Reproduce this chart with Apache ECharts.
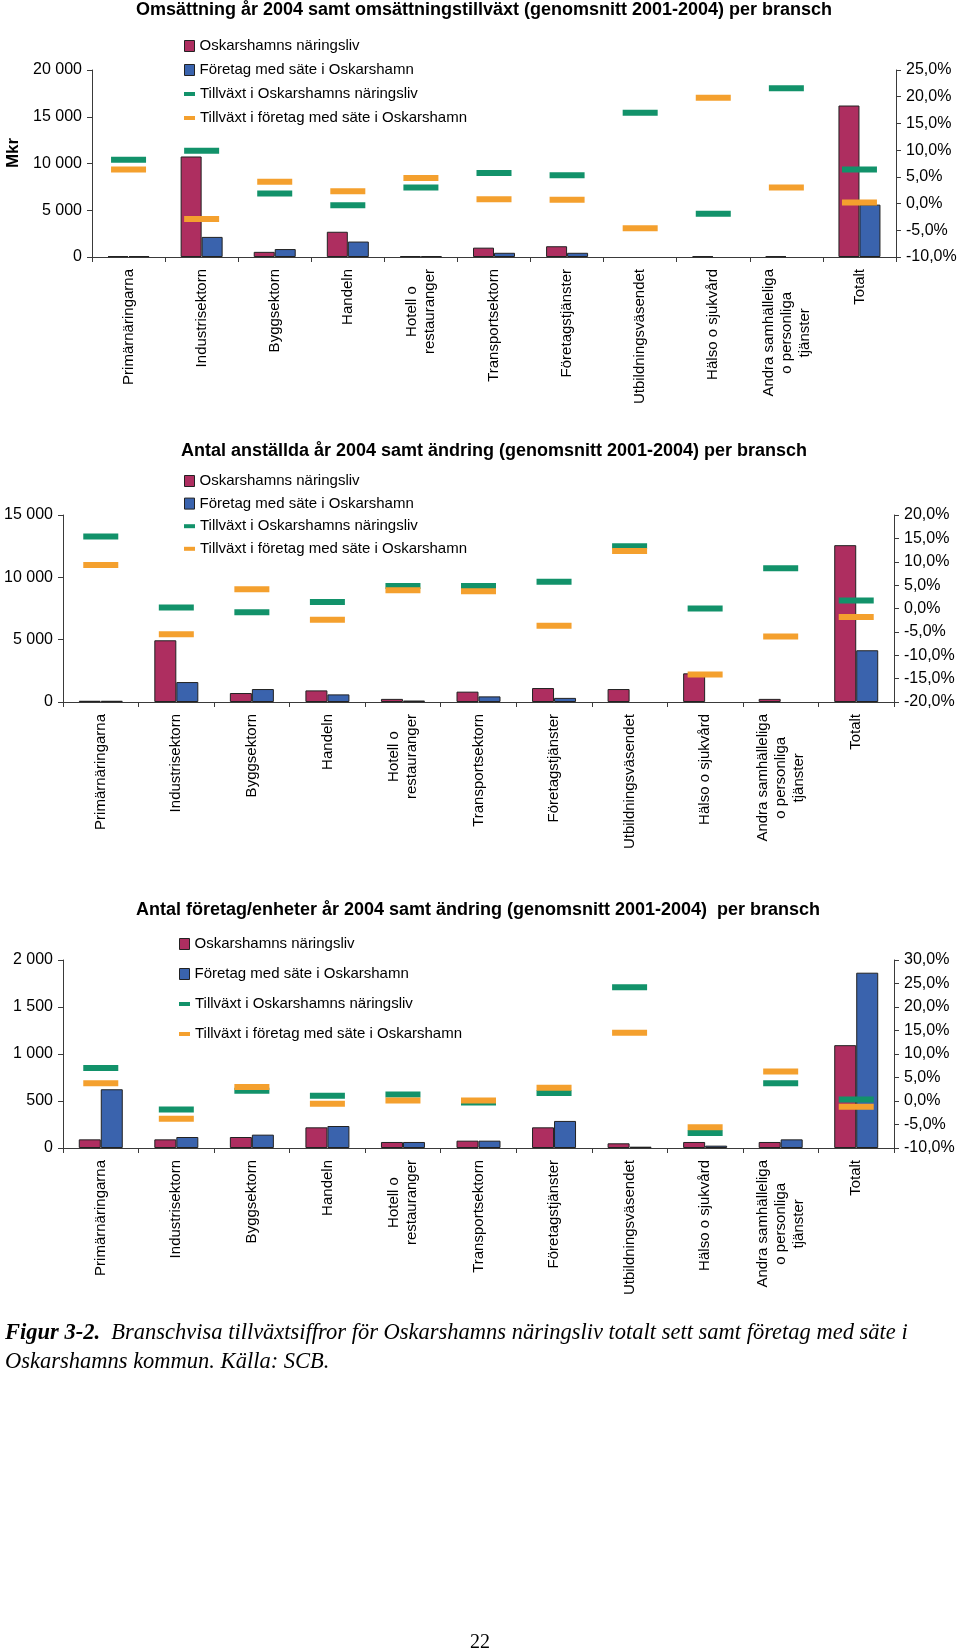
<!DOCTYPE html>
<html>
<head>
<meta charset="utf-8">
<script src="https://cdn.jsdelivr.net/npm/echarts@6/dist/echarts.min.js"></script>
<style>
html,body{margin:0;padding:0;background:#fff;}
#main{width:960px;height:1649px;}
</style>
</head>
<body>
<div id="main"></div>
<script>
// ---------- DATA ----------
const categories = ['Primärnäringarna','Industrisektorn','Byggsektorn','Handeln','Hotell o\nrestauranger','Transportsektorn','Företagstjänster','Utbildningsväsendet','Hälso o sjukvård','Andra samhälleliga\no personliga\ntjänster','Totalt'];
const seriesNames = ['Oskarshamns näringsliv','Företag med säte i Oskarshamn','Tillväxt i Oskarshamns näringsliv','Tillväxt i företag med säte i Oskarshamn'];

// Chart 1: Omsättning (Mkr) and growth (%)
const omsOskarshamn = [100, 10750, 550, 2700, 100, 1000, 1150, null, 80, 80, 16200];
const omsForetag    = [100, 2150, 850, 1650, 100, 450, 450, null, null, null, 5600];
const omsTillvOsk   = [8.2, 9.9, 1.9, -0.3, 3.0, 5.7, 5.3, 17.0, -1.9, 21.6, 6.4];
const omsTillvFtg   = [6.4, -2.9, 4.1, 2.3, 4.8, 0.8, 0.7, -4.6, 19.8, 3.0, 0.2];

// Chart 2: Antal anställda and change (%)
const anstOskarshamn = [100, 4950, 720, 930, 250, 830, 1120, 1040, 2300, 250, 12580];
const anstForetag    = [100, 1600, 1040, 610, 120, 450, 330, null, null, null, 4150];
const anstTillvOsk   = [15.4, 0.2, -0.8, 1.4, 4.8, 4.8, 5.7, 13.3, 0.0, 8.6, 1.7];
const anstTillvFtg   = [9.3, -5.5, 4.1, -2.4, 3.9, 3.7, -3.7, 12.3, -14.1, -6.0, -1.8];

// Chart 3: Antal företag/enheter and change (%)
const ftgOskarshamn = [92, 92, 117, 220, 64, 78, 220, 50, 64, 64, 1094];
const ftgForetag    = [625, 117, 142, 234, 64, 78, 288, 14, 25, 92, 1865];
const ftgTillvOsk   = [7.0, -1.8, 2.2, 1.1, 1.4, -0.3, 1.7, 24.2, -6.8, 3.8, 0.3];
const ftgTillvFtg   = [3.8, -3.8, 3.0, -0.6, 0.1, 0.1, 2.8, 14.5, -5.6, 6.3, -1.2];

// Axis ranges [min, max, interval]
const leftAxes  = [[0, 20000, 5000], [0, 15000, 5000], [0, 2000, 500]];
const rightAxes = [[-10, 25, 5], [-20, 20, 5], [-10, 30, 5]];

const titles = [
  'Omsättning år 2004 samt omsättningstillväxt (genomsnitt 2001-2004) per bransch',
  'Antal anställda år 2004 samt ändring (genomsnitt 2001-2004) per bransch',
  'Antal företag/enheter år 2004 samt ändring (genomsnitt 2001-2004)  per bransch'
];

// ---------- STYLE / LAYOUT ----------
const FONT = 'Liberation Sans, Arial, Helvetica, sans-serif';
const SERIF = 'Liberation Serif, Times New Roman, serif';
const C_MAG = '#AE2E60', C_BLUE = '#3A63AD', C_GREEN = '#12926A', C_ORANGE = '#F4A02E';
const AX = '#3a3a3a';

const grids = [
  {left: 92, right: 64, top: 70, height: 187},
  {left: 63, right: 66, top: 515, height: 187},
  {left: 63, right: 66, top: 960, height: 188}
];
const barW = [21, 22, 22];
const titlePos = [{x: 484, y: 1}, {x: 494, y: 442}, {x: 478, y: 901}];
const legendPos = [
  {left: 179, top: 33, gap: 8},
  {left: 179, top: 468, gap: 6.6},
  {left: 174, top: 931, gap: 14}
];

const data = [
  [omsOskarshamn, omsForetag, omsTillvOsk, omsTillvFtg],
  [anstOskarshamn, anstForetag, anstTillvOsk, anstTillvFtg],
  [ftgOskarshamn, ftgForetag, ftgTillvOsk, ftgTillvFtg]
];

function thousands(v){ return String(v).replace(/\B(?=(\d{3})+(?!\d))/g, ' '); }
function pct(v){ return v.toFixed(1).replace('.', ',') + '%'; }

const option = {
  backgroundColor: '#fff',
  animation: false,
  title: [],
  legend: [],
  grid: [],
  xAxis: [],
  yAxis: [],
  series: [],
  graphic: [{
    type: 'text', x: 13, y: 153, rotation: Math.PI / 2,
    style: {text: 'Mkr', font: 'bold 17px ' + FONT, fill: '#000', textAlign: 'center', textVerticalAlign: 'middle'}
  }]
};

for (let i = 0; i < 3; i++) {
  option.grid.push(Object.assign({containLabel: false}, grids[i]));
  option.title.push({
    text: titles[i], left: titlePos[i].x, top: titlePos[i].y, textAlign: 'center', padding: 0,
    textStyle: {fontFamily: FONT, fontWeight: 'bold', fontSize: 18, color: '#000'}
  });
  // bar legend
  option.legend.push({
    orient: 'vertical', left: legendPos[i].left, top: legendPos[i].top, itemGap: legendPos[i].gap,
    itemWidth: 10, itemHeight: 11, selectedMode: false,
    textStyle: {fontFamily: FONT, fontSize: 15, color: '#000', lineHeight: 16},
    data: [
      {name: seriesNames[0], icon: 'rect', itemStyle: {color: C_MAG, borderColor: '#222', borderWidth: 1}},
      {name: seriesNames[1], icon: 'rect', itemStyle: {color: C_BLUE, borderColor: '#222', borderWidth: 1}}
    ]
  });
  // line legend
  option.legend.push({
    orient: 'vertical', left: legendPos[i].left, top: legendPos[i].top + 2 * (16 + legendPos[i].gap), itemGap: legendPos[i].gap,
    itemWidth: 11, itemHeight: 4, selectedMode: false,
    textStyle: {fontFamily: FONT, fontSize: 15, color: '#000', lineHeight: 16},
    data: [
      {name: seriesNames[2], icon: 'rect', itemStyle: {color: C_GREEN, borderWidth: 0}},
      {name: seriesNames[3], icon: 'rect', itemStyle: {color: C_ORANGE, borderWidth: 0}}
    ]
  });
  option.xAxis.push({
    type: 'category', gridIndex: i, data: categories,
    axisLine: {show: true, onZero: false, lineStyle: {color: AX, width: 1}},
    axisTick: {show: true, length: 5, lineStyle: {color: AX}},
    splitLine: {show: false},
    axisLabel: {
      interval: 0, rotate: 90, margin: 12, color: '#000',
      fontFamily: FONT, fontSize: 15, lineHeight: 18,
      formatter: function (v) { return v.split('\n').map(function (l) { return '{c|' + l + '}'; }).join('\n'); },
      rich: {c: {align: 'center', fontFamily: FONT, fontSize: 15, lineHeight: 18, color: '#000'}}
    }
  });
  option.yAxis.push({
    type: 'value', gridIndex: i, position: 'left',
    min: leftAxes[i][0], max: leftAxes[i][1], interval: leftAxes[i][2],
    axisLine: {show: true, lineStyle: {color: AX}},
    axisTick: {show: true, length: 5, lineStyle: {color: AX}},
    splitLine: {show: false},
    axisLabel: {formatter: thousands, fontFamily: FONT, fontSize: 16, color: '#000', margin: 10}
  });
  option.yAxis.push({
    type: 'value', gridIndex: i, position: 'right',
    min: rightAxes[i][0], max: rightAxes[i][1], interval: rightAxes[i][2],
    axisLine: {show: true, lineStyle: {color: AX}},
    axisTick: {show: true, length: 5, lineStyle: {color: AX}},
    splitLine: {show: false},
    axisLabel: {formatter: pct, fontFamily: FONT, fontSize: 16, color: '#000', margin: 10}
  });
  const d = data[i];
  option.series.push({
    name: seriesNames[0], type: 'bar', xAxisIndex: i, yAxisIndex: 2 * i, data: d[0],
    barWidth: barW[i], barGap: '0%',
    itemStyle: {color: C_MAG, borderColor: '#222', borderWidth: 1}
  });
  option.series.push({
    name: seriesNames[1], type: 'bar', xAxisIndex: i, yAxisIndex: 2 * i, data: d[1],
    barWidth: barW[i], barGap: '0%',
    itemStyle: {color: C_BLUE, borderColor: '#222', borderWidth: 1}
  });
  option.series.push({
    name: seriesNames[2], type: 'scatter', xAxisIndex: i, yAxisIndex: 2 * i + 1, data: d[2],
    symbol: 'rect', symbolSize: [35, 6], z: 3,
    itemStyle: {color: C_GREEN, opacity: 1}
  });
  option.series.push({
    name: seriesNames[3], type: 'scatter', xAxisIndex: i, yAxisIndex: 2 * i + 1, data: d[3],
    symbol: 'rect', symbolSize: [35, 6], z: 3,
    itemStyle: {color: C_ORANGE, opacity: 1}
  });
}

// caption and page number
option.title.push({
  left: 5, top: 1319, padding: 0,
  text: '{b|Figur 3-2.}{i|  Branschvisa tillväxtsiffror för Oskarshamns näringsliv totalt sett samt företag med säte i}\n{i|Oskarshamns kommun. Källa: SCB.}',
  textStyle: {
    fontWeight: 'normal',
    lineHeight: 28.5,
    rich: {
      b: {fontFamily: SERIF, fontStyle: 'italic', fontWeight: 'bold', fontSize: 22.5, color: '#000', lineHeight: 28.5},
      i: {fontFamily: SERIF, fontStyle: 'italic', fontWeight: 'normal', fontSize: 22.5, color: '#000', lineHeight: 28.5}
    }
  }
});
option.title.push({
  text: '22', left: 480, top: 1633, textAlign: 'center', padding: 0,
  textStyle: {fontFamily: SERIF, fontWeight: 'normal', fontSize: 20, color: '#000'}
});

const chart = echarts.init(document.getElementById('main'), null, {renderer: 'canvas'});
chart.setOption(option);
</script>
</body>
</html>
